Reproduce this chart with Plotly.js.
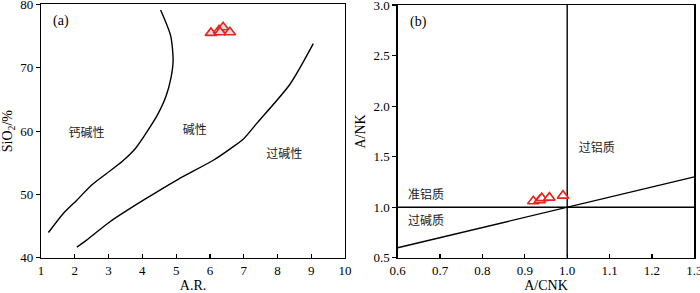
<!DOCTYPE html>
<html><head><meta charset="utf-8">
<script src="https://cdn.plot.ly/plotly-3.0.1.min.js"></script>
<style>html,body{margin:0;padding:0;background:#fff}#chart{width:700px;height:293px}</style>
</head><body><div id="chart"></div>
<script>
// Panel (a): A.R. vs SiO2 boundaries
const curveCalcAlkX = [1.22, 1.66, 2.06, 2.5, 2.94, 3.4, 3.8, 4.15, 4.45, 4.7, 4.85, 4.91, 4.84, 4.54];
const curveCalcAlkY = [44.0, 47.0, 49.1, 51.5, 53.3, 55.2, 57.3, 60.0, 62.6, 65.5, 68.5, 71.1, 75.0, 79.1];
const curvePeralkX = [2.06, 2.35, 3.04, 4.03, 5.06, 6.1, 6.6, 7.0, 7.4, 8.37, 9.06];
const curvePeralkY = [41.7, 42.8, 45.7, 49.1, 52.4, 55.4, 57.2, 58.8, 61.3, 67.4, 73.8];
const sampleAR = [6.03, 6.27, 6.39, 6.59, 6.3];
const sampleSiO2 = [75.5, 75.9, 76.4, 75.6, 75.6];
const labelsA = ["钙碱性", "碱性", "过碱性"];
const labelsAX = [2.35, 5.55, 8.2];
const labelsAY = [59.6, 60.0, 56.2];
const xTicksA = [1,2,3,4,5,6,7,8,9,10];
const yTicksA = [40,50,60,70,80];

// Panel (b): A/CNK vs A/NK
const sampleACNK = [0.92, 0.935, 0.94, 0.958, 0.99];
const sampleANK = [1.06, 1.07, 1.09, 1.095, 1.115];
const diagX = [0.6, 1.3];
const diagY = [0.6, 1.3];
const vertX = [1.0, 1.0];
const vertY = [0.5, 3.0];
const horizX = [0.6, 1.3];
const horizY = [1.0, 1.0];
const labelsB = ["过铝质", "准铝质", "过碱质"];
const labelsBX = [1.07, 0.667, 0.667];
const labelsBY = [1.58, 1.115, 0.85];
const xTicksB = [0.6,0.7,0.8,0.9,1.0,1.1,1.2,1.3];
const yTicksB = [0.5,1.0,1.5,2.0,2.5,3.0];

const serif = "Liberation Serif";
const cjk = "Noto Sans CJK SC";
const lineStyle = {color:'#000', width:1.4};

const traces = [
  {x:curveCalcAlkX, y:curveCalcAlkY, mode:'lines', line:Object.assign({shape:'spline', smoothing:0.7}, lineStyle), xaxis:'x', yaxis:'y', hoverinfo:'skip'},
  {x:curvePeralkX, y:curvePeralkY, mode:'lines', line:Object.assign({shape:'spline', smoothing:0.7}, lineStyle), xaxis:'x', yaxis:'y', hoverinfo:'skip'},
  {x:sampleAR, y:sampleSiO2, mode:'markers', marker:{symbol:'triangle-up', size:10, color:'#dcdce4', line:{color:'#e8231e', width:1.6}}, xaxis:'x', yaxis:'y'},
  {x:labelsAX, y:labelsAY, mode:'text', text:labelsA, textfont:{family:cjk, size:12, color:'#222'}, xaxis:'x', yaxis:'y', hoverinfo:'skip'},
  {x:diagX, y:diagY, mode:'lines', line:lineStyle, xaxis:'x2', yaxis:'y2', hoverinfo:'skip'},
  {x:vertX, y:vertY, mode:'lines', line:lineStyle, xaxis:'x2', yaxis:'y2', hoverinfo:'skip'},
  {x:horizX, y:horizY, mode:'lines', line:lineStyle, xaxis:'x2', yaxis:'y2', hoverinfo:'skip'},
  {x:sampleACNK, y:sampleANK, mode:'markers', marker:{symbol:'triangle-up', size:10, color:'#fff', line:{color:'#e8231e', width:1.6}}, xaxis:'x2', yaxis:'y2'},
  {x:labelsBX, y:labelsBY, mode:'text', text:labelsB, textfont:{family:cjk, size:12, color:'#222'}, xaxis:'x2', yaxis:'y2', hoverinfo:'skip'}
];

const axBase = {showgrid:false, zeroline:false, showline:true, linecolor:'#000', linewidth:1.2, mirror:true,
  tickfont:{family:serif, size:13, color:'#000'}, ticklen:4, tickcolor:'#000', tickwidth:1.2, ticklabeloverflow:'allow'};

const layout = {
  width:700, height:293, margin:{l:0,r:0,t:0,b:0}, showlegend:false,
  paper_bgcolor:'#fff', plot_bgcolor:'#fff',
  font:{family:serif},
  xaxis:Object.assign({}, axBase, {domain:[0.0586,0.4929], range:[1,10], tickvals:xTicksA, ticks:'inside',
    title:{text:'A.R.', font:{family:serif, size:14, color:'#000'}, standoff:4}, anchor:'y'}),
  yaxis:Object.assign({}, axBase, {domain:[0.12,0.985], range:[40,80], tickvals:yTicksA, ticks:'outside',
    title:{text:'SiO<sub>2</sub>/%', font:{family:serif, size:14, color:'#000'}, standoff:4}, anchor:'x'}),
  xaxis2:Object.assign({}, axBase, {domain:[0.5681,0.9919], range:[0.6,1.3], tickvals:xTicksB, tickformat:'.1f', ticks:'inside',
    title:{text:'A/CNK', font:{family:serif, size:14, color:'#000'}, standoff:4}, anchor:'y2'}),
  yaxis2:Object.assign({}, axBase, {domain:[0.12,0.983], range:[0.5,3.0], tickvals:yTicksB, tickformat:'.1f', ticks:'outside',
    title:{text:'A/NK', font:{family:serif, size:14, color:'#000'}, standoff:4}, anchor:'x2'}),
  annotations:[
    {text:'(a)', x:0.0586, y:0.985, xref:'paper', yref:'paper', xanchor:'left', yanchor:'top', xshift:10, yshift:-7, showarrow:false, font:{family:serif, size:14, color:'#000'}},
    {text:'(b)', x:0.5681, y:0.983, xref:'paper', yref:'paper', xanchor:'left', yanchor:'top', xshift:10, yshift:-7, showarrow:false, font:{family:serif, size:14, color:'#000'}}
  ]
};

Plotly.newPlot('chart', traces, layout, {staticPlot:true, displayModeBar:false});
</script></body></html>
